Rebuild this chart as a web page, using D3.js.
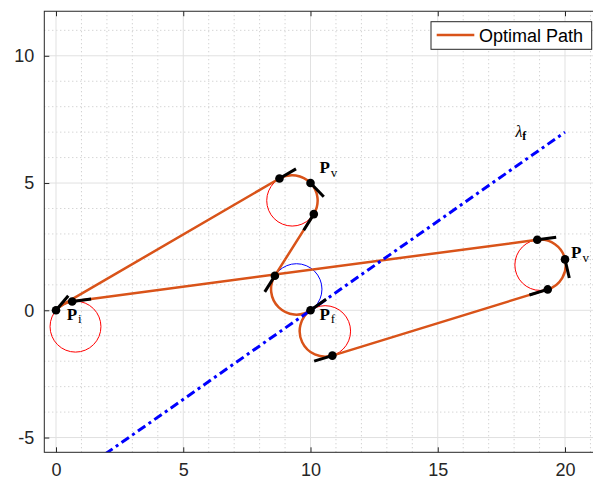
<!DOCTYPE html>
<html>
<head>
<meta charset="utf-8">
<script src="https://cdn.jsdelivr.net/npm/d3@7"></script>
<style>
  html, body { margin: 0; padding: 0; background: #fff; overflow: hidden; }
  svg { display: block; }
</style>
</head>
<body>
<svg id="plot"></svg>
<script>
// waypoints on the two paths (data units) and heading at each one (degrees)
const ptName = ['Pi', 'X1', 'A', 'B', 'Pv1', 'C', 'D', 'Pf', 'E', 'Pv2', 'F', 'G']
const ptX = [0, 0.263, 0.635, 8.78, 10, 10.13, 8.6, 10, 18.91, 20, 19.32, 10.86]
const ptY = [0, 0.221, 0.348, 5.18, 5, 3.78, 1.36, 0, 2.77, 2, 0.82, -1.78]
const ptHead = [50, 30, 7.5, 30, -46, -122, -122, 35, 7.5, -77, -163, -163]
const ptMarked = [true, false, true, true, true, true, true, true, true, true, true, true]

// turning circles, radius 1
const circName = ['c0', 'c1', 'c2', 'c3', 'cb']
const circX = [0.766, 9.28, 10.574, 19.03, 9.45]
const circY = [-0.643, 4.31, -0.819, 1.78, 0.83]
const circR = 1
const circDir = ['cw', 'cw', 'cw', 'cw', 'ccw']
const circColor = ['#ff0000', '#ff0000', '#ff0000', '#ff0000', '#0000ff']

// each path: sequence of waypoints, and what joins each pair ('' = straight line)
const path1Pts = ['Pi', 'X1', 'B', 'Pv1', 'C', 'D', 'Pf']
const path1Via = ['c0', '', 'c1', 'c1', '', 'cb']
const path2Pts = ['Pi', 'A', 'E', 'Pv2', 'F', 'G', 'Pf']
const path2Via = ['c0', '', 'c3', 'c3', '', 'c2']

// final heading line lambda_f
const lambdaX = [0, 20]
const lambdaY = [-7, 7]

const labelText = [['P', 'i'], ['P', 'v'], ['P', 'v'], ['P', 'f']]
const labelX = [0.42, 10.35, 20.24, 10.35]
const labelY = [-0.38, 5.38, 2.04, -0.38]
const lambdaLabelX = 18.05
const lambdaLabelY = 6.82

const xTicks = [0, 5, 10, 15, 20]
const yTicks = [-5, 0, 5, 10]
const xMinor = [1, 2, 3, 4, 6, 7, 8, 9, 11, 12, 13, 14, 16, 17, 18, 19, 21]
const yMinor = [-4, -3, -2, -1, 1, 2, 3, 4, 6, 7, 8, 9, 11]

const width = 593
const height = 479
const unit = 25.45
const margin = ({top: 11.3, left: 44.3, bottom: 452.3})
const xDomain = [-0.46, 21.3]
const yDomain = [-5.58, 11.75]

const x = d3.scaleLinear()
  .domain(xDomain)
  .range([margin.left, margin.left + (xDomain[1] - xDomain[0]) * unit])
const y = d3.scaleLinear()
  .domain(yDomain)
  .range([margin.bottom, margin.bottom - (yDomain[1] - yDomain[0]) * unit])

const orange = '#D95319'
const axisColor = '#262626'

const plot = d3.select('svg#plot')
  .attr('width', width)
  .attr('height', height)

const x0 = x.range()[0], x1 = x.range()[1]
const y0 = y.range()[1], y1 = y.range()[0]

plot.append('defs').append('clipPath')
    .attr('id', 'clip')
  .append('rect')
    .attr('x', x0).attr('y', y0)
    .attr('width', x1 - x0).attr('height', y1 - y0)

// grid
const grid = plot.append('g')
grid.selectAll('line.xminor')
  .data(xMinor)
  .join('line')
    .attr('x1', d => x(d)).attr('x2', d => x(d))
    .attr('y1', y0).attr('y2', y1)
    .attr('stroke', '#c4c4c4').attr('stroke-width', 1)
    .attr('stroke-dasharray', '1,3')
grid.selectAll('line.yminor')
  .data(yMinor)
  .join('line')
    .attr('y1', d => y(d)).attr('y2', d => y(d))
    .attr('x1', x0).attr('x2', x1)
    .attr('stroke', '#c4c4c4').attr('stroke-width', 1)
    .attr('stroke-dasharray', '1,3')
grid.append('g').selectAll('line')
  .data(xTicks)
  .join('line')
    .attr('x1', d => x(d)).attr('x2', d => x(d))
    .attr('y1', y0).attr('y2', y1)
    .attr('stroke', '#e1e1e1').attr('stroke-width', 1)
grid.append('g').selectAll('line')
  .data(yTicks)
  .join('line')
    .attr('y1', d => y(d)).attr('y2', d => y(d))
    .attr('x1', x0).attr('x2', x1)
    .attr('stroke', '#e1e1e1').attr('stroke-width', 1)

const marks = plot.append('g').attr('clip-path', 'url(#clip)')

// turning circles
marks.append('g').selectAll('circle')
  .data(circName)
  .join('circle')
    .attr('cx', (d, i) => x(circX[i]))
    .attr('cy', (d, i) => y(circY[i]))
    .attr('r', x(circR) - x(0))
    .attr('fill', 'none')
    .attr('stroke', (d, i) => circColor[i])
    .attr('stroke-width', 1)

function buildPath(pts, via) {
  let p = d3.path()
  let k = ptName.indexOf(pts[0])
  p.moveTo(x(ptX[k]), y(ptY[k]))
  for (let i = 1; i < pts.length; i++) {
    let a = ptName.indexOf(pts[i - 1])
    let b = ptName.indexOf(pts[i])
    if (via[i - 1] === '') {
      p.lineTo(x(ptX[b]), y(ptY[b]))
    } else {
      let c = circName.indexOf(via[i - 1])
      let a0 = Math.atan2(ptY[a] - circY[c], ptX[a] - circX[c])
      let a1 = Math.atan2(ptY[b] - circY[c], ptX[b] - circX[c])
      // screen y points down, so angles flip sign
      p.arc(x(circX[c]), y(circY[c]), x(circR) - x(0), -a0, -a1, circDir[c] === 'ccw')
    }
  }
  return p.toString()
}

marks.append('g').selectAll('path')
  .data([[path1Pts, path1Via], [path2Pts, path2Via]])
  .join('path')
    .attr('d', d => buildPath(d[0], d[1]))
    .attr('fill', 'none')
    .attr('stroke', orange)
    .attr('stroke-width', 2.5)
    .attr('stroke-linejoin', 'round')

// lambda_f line
marks.append('line')
  .attr('x1', x(lambdaX[0])).attr('y1', y(lambdaY[0]))
  .attr('x2', x(lambdaX[1])).attr('y2', y(lambdaY[1]))
  .attr('stroke', '#0000ff')
  .attr('stroke-width', 3)
  .attr('stroke-dasharray', '9,4,3,4')

// heading tangents and waypoint dots
const shown = ptName.map((d, i) => i).filter(i => ptMarked[i])
const tanLen = 0.75
marks.append('g').selectAll('line')
  .data(shown)
  .join('line')
    .attr('x1', i => x(ptX[i])).attr('y1', i => y(ptY[i]))
    .attr('x2', i => x(ptX[i] + tanLen * Math.cos(ptHead[i] * Math.PI / 180)))
    .attr('y2', i => y(ptY[i] + tanLen * Math.sin(ptHead[i] * Math.PI / 180)))
    .attr('stroke', '#000')
    .attr('stroke-width', 3)
marks.append('g').selectAll('circle')
  .data(shown)
  .join('circle')
    .attr('cx', i => x(ptX[i]))
    .attr('cy', i => y(ptY[i]))
    .attr('r', 4.3)
    .attr('fill', '#000')

// labels
const labels = plot.append('g')
  .attr('font-family', '"Liberation Serif", "DejaVu Serif", serif')
  .attr('fill', '#000')
labels.selectAll('text')
  .data(labelText)
  .join('text')
    .attr('x', (d, i) => x(labelX[i]))
    .attr('y', (d, i) => y(labelY[i]))
    .each(function(d) {
      let t = d3.select(this)
      t.append('tspan').attr('font-size', 17).attr('font-weight', 'bold').text(d[0])
      t.append('tspan').attr('font-size', 13).attr('dx', 1).attr('dy', 3.5).text(d[1])
    })
let lam = labels.append('text')
  .attr('x', x(lambdaLabelX))
  .attr('y', y(lambdaLabelY))
lam.append('tspan').attr('font-size', 16).attr('font-style', 'italic').text('λ')
lam.append('tspan').attr('font-size', 12).attr('font-weight', 'bold').attr('dy', 3.5).text('f')

// axes
const fmt = d => String(d)
plot.append('g')
  .attr('transform', `translate(0, ${y1})`)
  .call(d3.axisBottom(x).tickValues(xTicks).tickFormat(fmt).tickSizeInner(-5).tickSizeOuter(0).tickPadding(11))
plot.append('g')
  .attr('transform', `translate(0, ${y0})`)
  .call(d3.axisTop(x).tickValues(xTicks).tickFormat('').tickSizeInner(-5).tickSizeOuter(0))
plot.append('g')
  .attr('transform', `translate(${x0}, 0)`)
  .call(d3.axisLeft(y).tickValues(yTicks).tickFormat(fmt).tickSizeInner(-5).tickSizeOuter(0).tickPadding(10))
plot.append('g')
  .attr('transform', `translate(${x1}, 0)`)
  .call(d3.axisRight(y).tickValues(yTicks).tickFormat('').tickSizeInner(-5).tickSizeOuter(0))

plot.selectAll('.domain').remove()
plot.selectAll('.tick line').attr('stroke', axisColor)
plot.selectAll('.tick text')
  .attr('fill', axisColor)
  .attr('font-size', 18)
  .attr('font-family', '"Liberation Sans", Arial, sans-serif')

plot.append('rect')
  .attr('x', x0).attr('y', y0)
  .attr('width', x1 - x0).attr('height', y1 - y0)
  .attr('fill', 'none')
  .attr('stroke', axisColor)
  .attr('stroke-width', 1)

// legend
const legend = plot.append('g')
legend.append('rect')
  .attr('x', 431).attr('y', 21.7)
  .attr('width', 160.7).attr('height', 27.6)
  .attr('fill', '#fff')
  .attr('stroke', axisColor)
  .attr('stroke-width', 1)
legend.append('line')
  .attr('x1', 436.7).attr('x2', 474.3)
  .attr('y1', 35).attr('y2', 35)
  .attr('stroke', orange)
  .attr('stroke-width', 2.5)
legend.append('text')
  .attr('x', 479).attr('y', 41.5)
  .attr('font-size', 18)
  .attr('font-family', '"Liberation Sans", Arial, sans-serif')
  .attr('fill', '#000')
  .text('Optimal Path')
</script>
</body>
</html>
